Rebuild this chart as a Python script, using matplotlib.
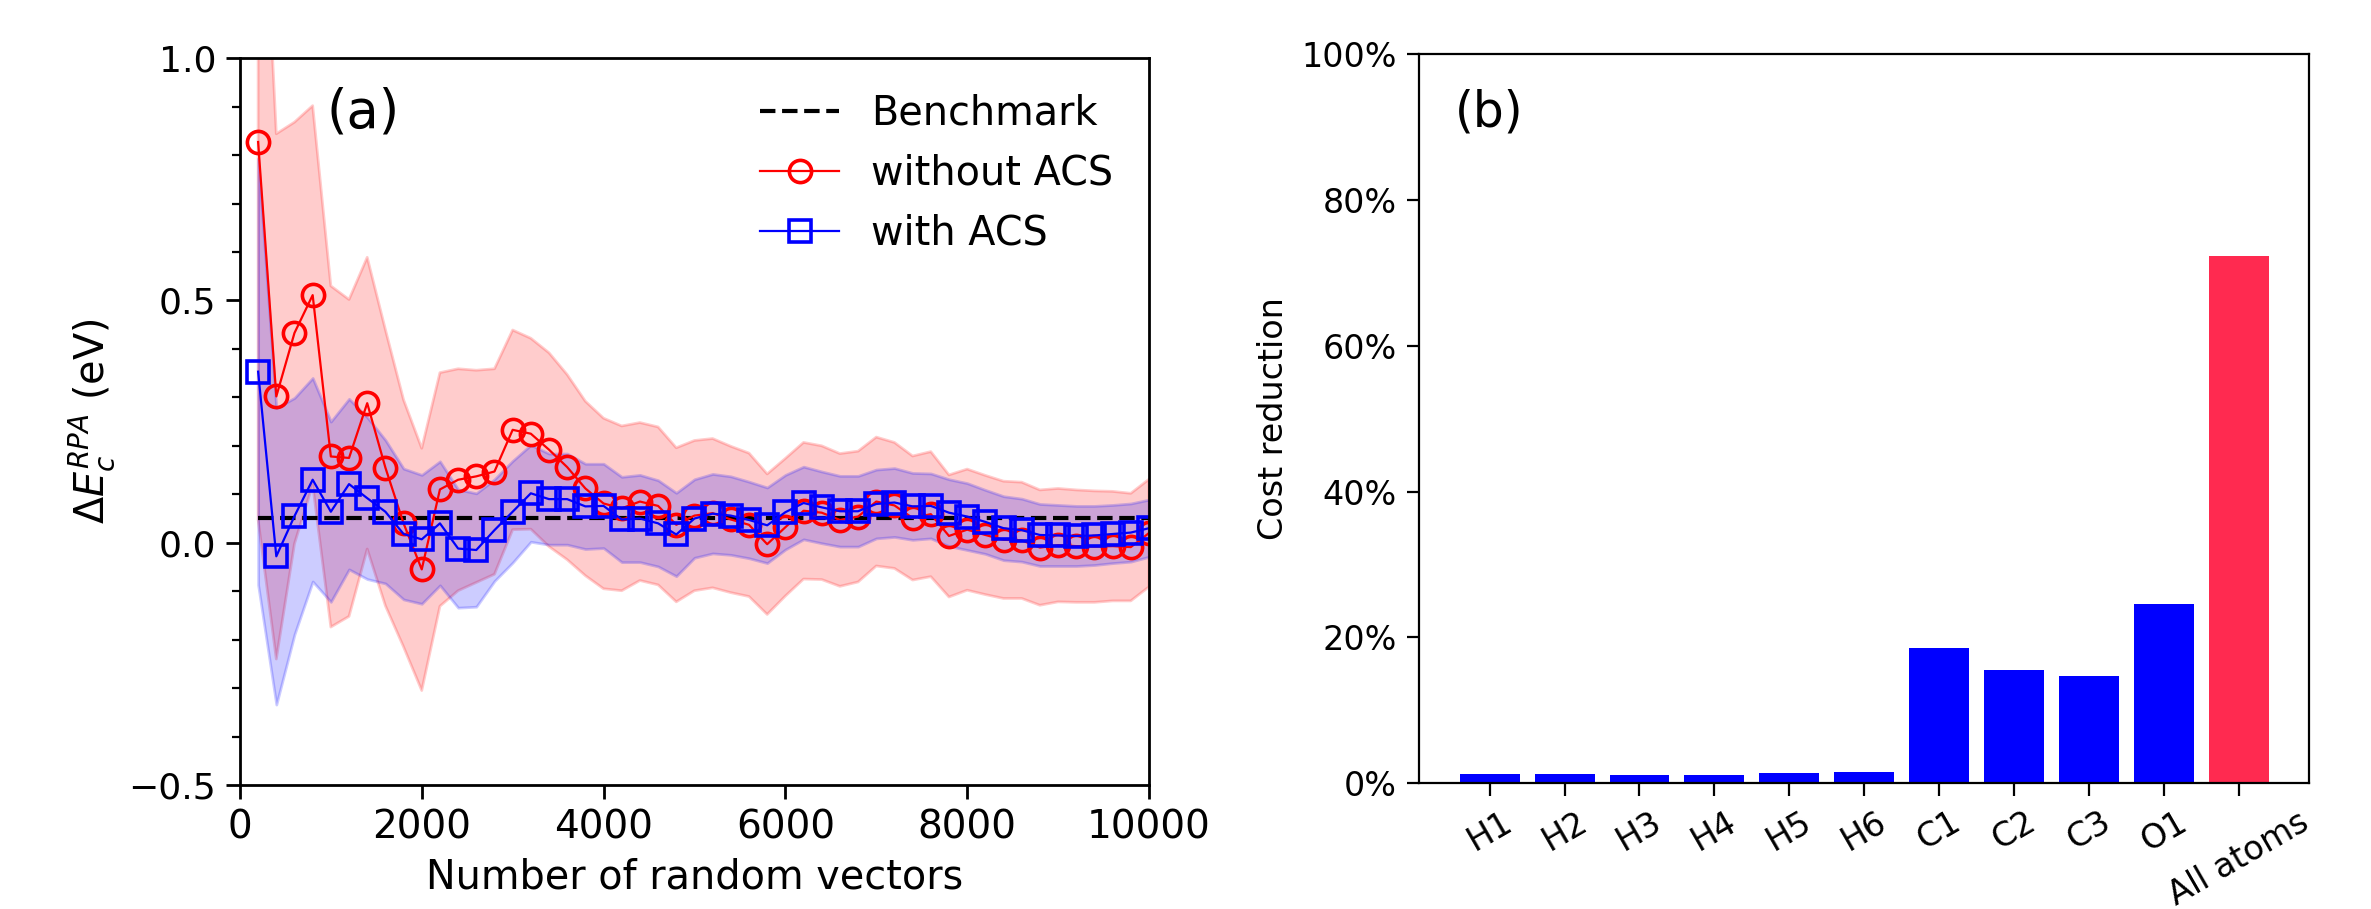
import numpy as np
import matplotlib
matplotlib.use("Agg")
import matplotlib.pyplot as plt
from matplotlib.ticker import MultipleLocator, PercentFormatter


# ---- panel (a): stochastic RPA correlation energy error ----
n_vectors = np.arange(200, 10001, 200)

benchmark = 0.052

# without ACS: mean and standard deviation
red_mean = [0.827, 0.302, 0.433, 0.511, 0.178, 0.175, 0.288, 0.155, 0.040, -0.055,
            0.110, 0.130, 0.137, 0.147, 0.233, 0.225, 0.192, 0.156, 0.112, 0.081,
            0.071, 0.085, 0.076, 0.037, 0.056, 0.061, 0.048, 0.037, -0.003, 0.032,
            0.066, 0.062, 0.047, 0.054, 0.085, 0.077, 0.051, 0.059, 0.014, 0.027,
            0.016, 0.006, 0.005, -0.010, -0.005, -0.007, -0.008, -0.007, -0.009, 0.020]
red_std = [0.780, 0.542, 0.435, 0.391, 0.352, 0.327, 0.301, 0.285, 0.255, 0.250,
           0.241, 0.229, 0.219, 0.212, 0.206, 0.197, 0.200, 0.191, 0.180, 0.176,
           0.170, 0.163, 0.163, 0.159, 0.155, 0.154, 0.151, 0.148, 0.145, 0.142,
           0.141, 0.138, 0.137, 0.135, 0.133, 0.130, 0.128, 0.129, 0.126, 0.125,
           0.123, 0.121, 0.120, 0.119, 0.117, 0.116, 0.115, 0.113, 0.111, 0.111]

# with ACS
blue_mean = [0.353, -0.028, 0.055, 0.130, 0.064, 0.121, 0.092, 0.064, 0.018, 0.007,
             0.040, -0.012, -0.015, 0.026, 0.064, 0.102, 0.090, 0.090, 0.075, 0.076,
             0.048, 0.050, 0.040, 0.017, 0.050, 0.060, 0.056, 0.047, 0.036, 0.063,
             0.082, 0.073, 0.065, 0.065, 0.080, 0.083, 0.075, 0.076, 0.062, 0.054,
             0.043, 0.030, 0.026, 0.016, 0.015, 0.014, 0.015, 0.018, 0.021, 0.030]
blue_std = [0.440, 0.306, 0.244, 0.210, 0.186, 0.176, 0.167, 0.148, 0.135, 0.133,
            0.128, 0.122, 0.117, 0.105, 0.105, 0.100, 0.094, 0.094, 0.088, 0.087,
            0.088, 0.090, 0.089, 0.086, 0.081, 0.082, 0.081, 0.079, 0.078, 0.077,
            0.075, 0.074, 0.073, 0.073, 0.071, 0.071, 0.069, 0.067, 0.069, 0.069,
            0.066, 0.066, 0.065, 0.064, 0.063, 0.062, 0.061, 0.060, 0.060, 0.059]

# ---- panel (b): cost reduction per atom ----
atoms = ["H1", "H2", "H3", "H4", "H5", "H6", "C1", "C2", "C3", "O1", "All atoms"]
cost_reduction = [1.27, 1.27, 1.1, 1.1, 1.34, 1.49, 18.5, 15.5, 14.75, 24.6, 72.3]


def plot():
    fig = plt.figure(figsize=(11.855, 4.545), dpi=200)

    # panel (a)
    ax = fig.add_axes([0.1012, 0.1364, 0.4846 - 0.1012, 0.936 - 0.1364])
    rm = np.array(red_mean)
    rs = np.array(red_std)
    bm = np.array(blue_mean)
    bs = np.array(blue_std)

    ax.fill_between(n_vectors, rm - rs, rm + rs, color="red", alpha=0.2)
    ax.fill_between(n_vectors, bm - bs, bm + bs, color="blue", alpha=0.2)
    ax.plot(n_vectors, np.full(len(n_vectors), benchmark), "k--", lw=1.5,
            label="Benchmark")
    ax.plot(n_vectors, rm, "-o", color="red", lw=0.8, ms=8, mew=1.3,
            mfc="none", label="without ACS")
    ax.plot(n_vectors, bm, "-s", color="blue", lw=0.8, ms=8, mew=1.3,
            mfc="none", label="with ACS")

    ax.set_xlim(0, 10000)
    ax.set_ylim(-0.5, 1.0)
    ax.set_xticks(np.arange(0, 10001, 2000))
    ax.set_yticks([-0.5, 0.0, 0.5, 1.0])
    ax.yaxis.set_minor_locator(MultipleLocator(0.1))
    ax.tick_params(which="major", length=5, width=1.0, labelsize=13)
    ax.tick_params(axis="x", labelsize=14)
    ax.tick_params(which="minor", length=2.8, width=0.8)
    for s in ax.spines.values():
        s.set_linewidth(1.0)
    ax.set_xlabel("Number of random vectors", fontsize=14.3)
    ax.set_ylabel(r"$\Delta E_c^{RPA}$ (eV)", fontsize=14.3)
    ax.text(0.135, 0.925, "(a)", transform=ax.transAxes, fontsize=19,
            ha="center", va="center")
    ax.legend(loc="upper right", frameon=False, fontsize=14.3)

    # panel (b)
    bx = fig.add_axes([0.5986, 0.1386, 0.9739 - 0.5986, 0.9403 - 0.1386])
    colors = ["blue"] * (len(atoms) - 1) + ["#ff2a50"]
    bx.bar(np.arange(len(atoms)), cost_reduction, width=0.8, color=colors)
    bx.set_xticks(np.arange(len(atoms)))
    bx.set_xticklabels(atoms, rotation=30)
    bx.set_ylim(0, 100)
    bx.set_yticks(np.arange(0, 101, 20))
    bx.yaxis.set_major_formatter(PercentFormatter(xmax=100, decimals=0))
    bx.tick_params(labelsize=12, length=4.5, width=0.8)
    for s in bx.spines.values():
        s.set_linewidth(0.8)
    bx.set_ylabel("Cost reduction", fontsize=12)
    bx.text(0.04, 0.92, "(b)", transform=bx.transAxes, fontsize=17.5,
            ha="left", va="center")

    fig.savefig("out.png", dpi=200)
    plt.close(fig)


if __name__ == "__main__":
    plot()
